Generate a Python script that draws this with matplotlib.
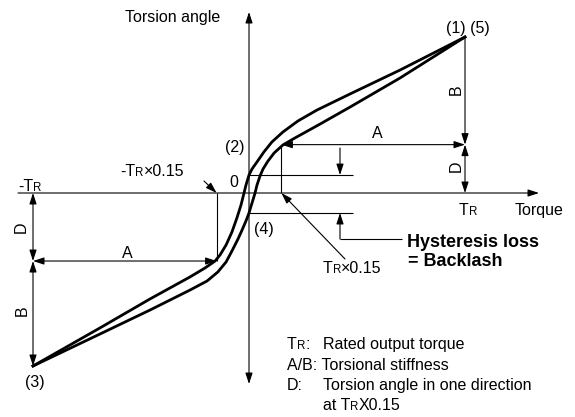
import matplotlib
matplotlib.use('Agg')
import matplotlib.pyplot as plt

plt.rcParams['font.family'] = ['Liberation Sans', 'DejaVu Sans']

# torque as a fraction of rated torque TR, torsion angle relative to the angle at TR
unload_torque = [1.0, 0.699, 0.468, 0.315, 0.227, 0.157, 0.106, 0.069, 0.037, 0.014, 0.0,
                 -0.014, -0.023, -0.037, -0.056, -0.079, -0.106, -0.134, -0.157, -0.204,
                 -0.273, -0.458, -0.690, -1.0]
unload_angle = [1.0, 0.788, 0.635, 0.532, 0.462, 0.391, 0.327, 0.263, 0.199, 0.154, 0.115,
                0.051, 0.0, -0.077, -0.160, -0.250, -0.333, -0.397, -0.436, -0.481,
                -0.538, -0.679, -0.865, -1.109]
load_torque = [-1.0, -0.690, -0.458, -0.273, -0.194, -0.144, -0.106, -0.079, -0.051, -0.032,
               -0.014, 0.0, 0.014, 0.028, 0.037, 0.051, 0.065, 0.088, 0.116, 0.157, 0.213,
               0.329, 0.468, 0.699, 1.0]
load_angle = [-1.109, -0.904, -0.750, -0.622, -0.564, -0.506, -0.442, -0.372, -0.295, -0.237,
              -0.179, -0.128, -0.064, 0.0, 0.051, 0.109, 0.154, 0.205, 0.256, 0.308, 0.353,
              0.442, 0.551, 0.737, 1.0]

rated = 1.0
ratio = 0.15
angle_max = 1.0
angle_min = -1.109
angle_plus = 0.31
angle_minus = -0.436
backlash_top = 0.115
backlash_bottom = -0.128

X0, Y0, SX, SY = 249, 193, 216, 156


def px(x, y):
    # pixel position in the 575x417 picture -> data coords
    return ((x - X0) / SX, (Y0 - y) / SY)


fig = plt.figure(figsize=(5.75, 4.17), dpi=100)
ax = fig.add_axes([0, 0, 1, 1])
ax.set_xlim(px(0, 0)[0], px(575, 0)[0])
ax.set_ylim(px(0, 417)[1], px(0, 0)[1])
ax.axis('off')
renderer = fig.canvas.get_renderer()

FS = 11.5
SMALL = 8.3


def arrow(p0, p1, style='-|>', lw=0.8):
    ax.annotate('', xy=p1, xytext=p0,
                arrowprops=dict(arrowstyle=style + ',head_length=0.55,head_width=0.18',
                                lw=lw, color='k', shrinkA=0, shrinkB=0, mutation_scale=12))


def line(p0, p1, lw=0.8):
    ax.plot([p0[0], p1[0]], [p0[1], p1[1]], color='k', lw=lw, solid_capstyle='butt')


def tr_text(pos, parts, size=FS, weight='normal'):
    # parts: list of (text, small) drawn one after another on the same baseline
    x, y = pos
    inv = ax.transData.inverted()
    for s, small in parts:
        t = ax.text(x, y, s, fontsize=SMALL if small else size, ha='left',
                    va='baseline', fontweight=weight)
        bb = t.get_window_extent(renderer=renderer)
        x = inv.transform((bb.x1, bb.y0))[0]


# axes
arrow(px(249, 384), px(249, 12), '<|-|>')
arrow(px(18, 193), px(539, 193))

# hysteresis curves
ax.plot(unload_torque, unload_angle, color='k', lw=2.0, solid_joinstyle='round')
ax.plot(load_torque, load_angle, color='k', lw=2.0, solid_joinstyle='round')

# right side dimensions
arrow((rated, angle_max), (rated, angle_plus))
arrow((rated, angle_plus), (rated, 0), '<|-|>')
arrow((ratio, angle_plus), (rated, angle_plus), '<|-|>')
line((ratio, angle_plus), (ratio, 0))
arrow(px(345, 259), (ratio, 0))

# left side dimensions
arrow((-rated, 0), (-rated, angle_minus), '<|-|>')
arrow((-rated, angle_minus), (-rated, angle_min), '<|-|>')
arrow((-rated, angle_minus), (-ratio, angle_minus), '<|-|>')
line((-ratio, 0), (-ratio, angle_minus))
arrow(px(204, 181), (-ratio, 0))

# backlash
line((0, backlash_top), (px(353, 0)[0], backlash_top))
line((0, backlash_bottom), (px(353, 0)[0], backlash_bottom))
arrow(px(340, 148), (px(340, 0)[0], backlash_top))
arrow(px(340, 239), (px(340, 0)[0], backlash_bottom))
line(px(340, 239), px(402, 239))

# labels
ax.text(*px(220, 17), 'Torsion angle', fontsize=FS, ha='right', va='center')
ax.text(*px(468, 28), '(1) (5)', fontsize=FS, ha='center', va='center')
ax.text(*px(456, 90), 'B', fontsize=FS, ha='center', va='center', rotation=90)
ax.text(*px(456, 166), 'D', fontsize=FS, ha='center', va='center', rotation=90)
ax.text(*px(377, 133), 'A', fontsize=FS, ha='center', va='center')
ax.text(*px(235, 147), '(2)', fontsize=FS, ha='center', va='center')
ax.text(*px(234, 182), '0', fontsize=FS, ha='center', va='center')
ax.text(*px(264, 229), '(4)', fontsize=FS, ha='center', va='center')
tr_text(px(459, 215), [('T', False), ('R', True)])
ax.text(*px(515, 210), 'Torque', fontsize=FS, ha='left', va='center')
tr_text(px(323, 273), [('T', False), ('R', True), ('×0.15', False)])
ax.text(*px(407, 242), 'Hysteresis loss', fontsize=13, fontweight='bold',
        ha='left', va='center')
ax.text(*px(408, 261), '= Backlash', fontsize=13, fontweight='bold',
        ha='left', va='center')

tr_text(px(18, 191), [('-T', False), ('R', True)])
tr_text(px(120, 176), [('-T', False), ('R', True), ('×0.15', False)])
ax.text(*px(21, 227), 'D', fontsize=FS, ha='center', va='center', rotation=90)
ax.text(*px(127, 253), 'A', fontsize=FS, ha='center', va='center')
ax.text(*px(22, 311), 'B', fontsize=FS, ha='center', va='center', rotation=90)
ax.text(*px(35, 382), '(3)', fontsize=FS, ha='center', va='center')

# notes
tr_text(px(287, 349), [('T', False), ('R', True), (':', False)])
ax.text(*px(323, 349), 'Rated output torque', fontsize=FS, va='baseline')
ax.text(*px(287, 370), 'A/B: Torsional stiffness', fontsize=FS, va='baseline')
ax.text(*px(287, 390), 'D:', fontsize=FS, va='baseline')
ax.text(*px(323, 390), 'Torsion angle in one direction', fontsize=FS, va='baseline')
tr_text(px(323, 410), [('at T', False), ('R', True), ('X0.15', False)])

fig.savefig('out.png', dpi=100)
